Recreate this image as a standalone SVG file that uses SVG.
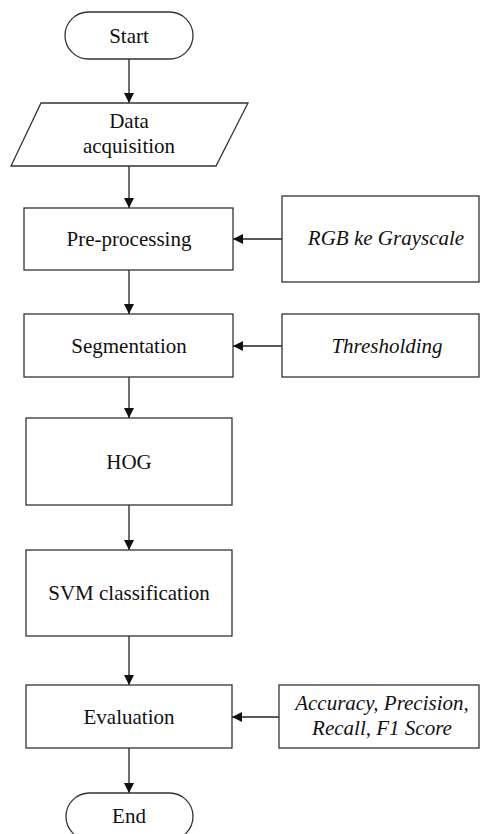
<svg xmlns="http://www.w3.org/2000/svg" width="480" height="834" viewBox="0 0 480 834">
<defs>
<marker id="ah" markerUnits="userSpaceOnUse" markerWidth="12" markerHeight="12" refX="10" refY="5" orient="auto">
<path d="M0,0 L10,5 L0,10 Z" fill="#111"/>
</marker>
</defs>
<rect width="480" height="834" fill="#fff"/>
<g id="connectors" fill="none" stroke="#222" stroke-width="1.3" marker-end="url(#ah)">
<line x1="129" y1="59" x2="129" y2="103"/>
<line x1="129" y1="166" x2="129" y2="208"/>
<line x1="129" y1="270" x2="129" y2="314"/>
<line x1="129" y1="377" x2="129" y2="418"/>
<line x1="129" y1="505" x2="129" y2="550"/>
<line x1="129" y1="636" x2="129" y2="685"/>
<line x1="129" y1="748" x2="129" y2="793"/>
<line x1="282" y1="239" x2="233" y2="239"/>
<line x1="282" y1="346" x2="233" y2="346"/>
<line x1="279" y1="717" x2="232" y2="717"/>
</g>
<g id="nodes">
<g id="start">
<rect x="65" y="12" width="128" height="47" rx="23.5" fill="#fff" stroke="#333" stroke-width="1.3"/>
<text x="129" y="43" font-family="Liberation Serif" font-size="21" fill="#111" text-anchor="middle">Start</text>
</g>
<g id="data">
<polygon points="41,103 248,103 216,166 11,166" fill="#fff" stroke="#333" stroke-width="1.3"/>
<text x="129" y="128" font-family="Liberation Serif" font-size="21" fill="#111" text-anchor="middle">Data</text>
<text x="129" y="153" font-family="Liberation Serif" font-size="21" fill="#111" text-anchor="middle">acquisition</text>
</g>
<g id="pre">
<rect x="24" y="208" width="209" height="62" fill="#fff" stroke="#333" stroke-width="1.3"/>
<text x="129" y="246" font-family="Liberation Serif" font-size="21" fill="#111" text-anchor="middle">Pre-processing</text>
</g>
<g id="rgb">
<rect x="282" y="196" width="197" height="86" fill="#fff" stroke="#333" stroke-width="1.3"/>
<text x="386" y="245" font-family="Liberation Serif" font-style="italic" font-size="21" fill="#111" text-anchor="middle">RGB ke Grayscale</text>
</g>
<g id="seg">
<rect x="24" y="314" width="209" height="63" fill="#fff" stroke="#333" stroke-width="1.3"/>
<text x="129" y="353" font-family="Liberation Serif" font-size="21" fill="#111" text-anchor="middle">Segmentation</text>
</g>
<g id="thr">
<rect x="282" y="314" width="197" height="63" fill="#fff" stroke="#333" stroke-width="1.3"/>
<text x="387" y="353" font-family="Liberation Serif" font-style="italic" font-size="21" fill="#111" text-anchor="middle">Thresholding</text>
</g>
<g id="hog">
<rect x="26" y="418" width="206" height="87" fill="#fff" stroke="#333" stroke-width="1.3"/>
<text x="129" y="469" font-family="Liberation Serif" font-size="21" fill="#111" text-anchor="middle">HOG</text>
</g>
<g id="svm">
<rect x="26" y="550" width="206" height="86" fill="#fff" stroke="#333" stroke-width="1.3"/>
<text x="129" y="600" font-family="Liberation Serif" font-size="21" fill="#111" text-anchor="middle">SVM classification</text>
</g>
<g id="eval">
<rect x="26" y="685" width="206" height="63" fill="#fff" stroke="#333" stroke-width="1.3"/>
<text x="129" y="724" font-family="Liberation Serif" font-size="21" fill="#111" text-anchor="middle">Evaluation</text>
</g>
<g id="metrics">
<rect x="279" y="685" width="200" height="63" fill="#fff" stroke="#333" stroke-width="1.3"/>
<text x="382" y="710" font-family="Liberation Serif" font-style="italic" font-size="21" fill="#111" text-anchor="middle">Accuracy, Precision,</text>
<text x="382" y="735" font-family="Liberation Serif" font-style="italic" font-size="21" fill="#111" text-anchor="middle">Recall, F1 Score</text>
</g>
<g id="end">
<rect x="66" y="793" width="127" height="47" rx="23.5" fill="#fff" stroke="#333" stroke-width="1.3"/>
<text x="129" y="823" font-family="Liberation Serif" font-size="21" fill="#111" text-anchor="middle">End</text>
</g>
</g>
</svg>
